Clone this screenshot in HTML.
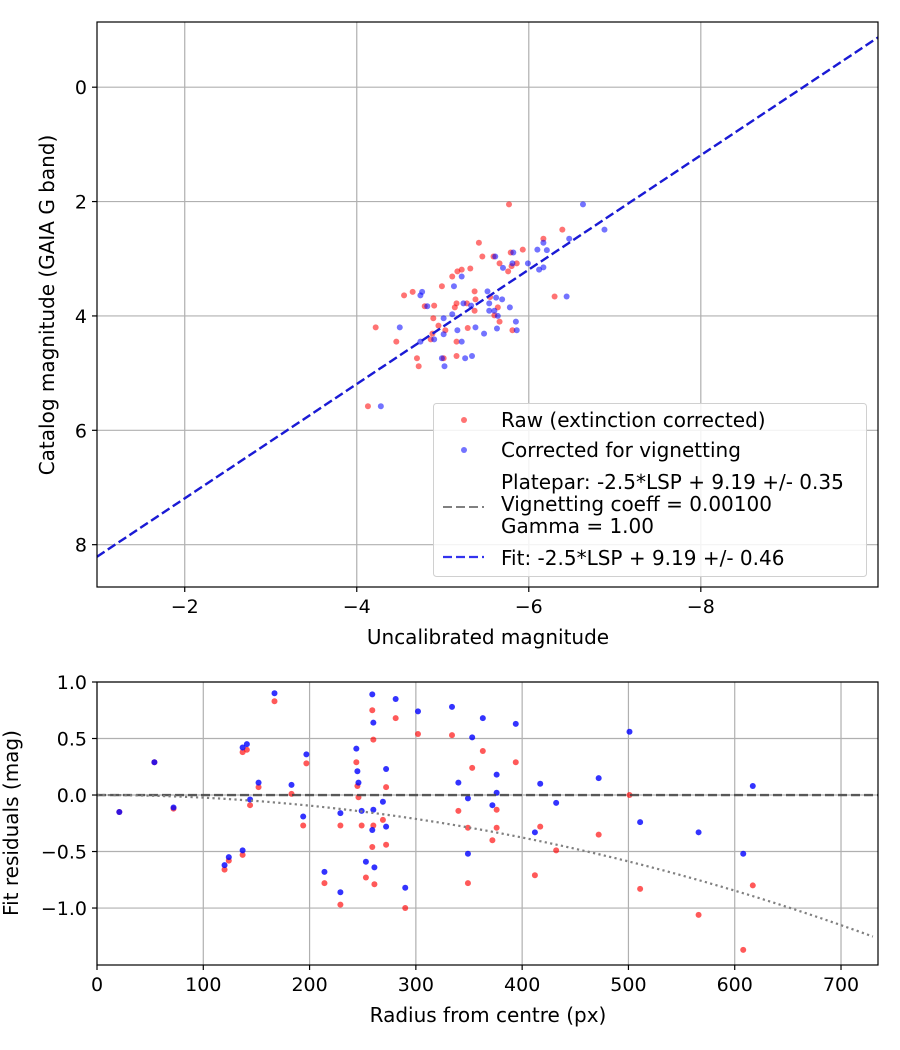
<!DOCTYPE html>
<html><head><meta charset="utf-8"><style>
html,body{margin:0;padding:0;background:#fff;}
svg{display:block;font-family:"DejaVu Sans","Liberation Sans",sans-serif;}
</style></head><body>
<svg id="fig" width="900" height="1050" viewBox="0 0 900 1050" xmlns="http://www.w3.org/2000/svg">
<rect width="900" height="1050" fill="#fff"/>
<g id="topPlot"></g>
<g id="botPlot"></g>
</svg>
<script>
// ---- Top chart data ----
const rawX = [-5.77,-5.42,-6.39,-6.17,-5.93,-5.79,-5.46,-5.59,-5.66,-5.86,-5.80,-5.76,-5.32,-5.22,-5.17,-5.11,-4.99,-4.65,-4.55,-5.37,-5.38,-5.16,-5.14,-4.90,-4.79,-5.28,-5.37,-5.55,-5.64,-5.60,-5.66,-6.30,-4.89,-4.95,-4.22,-5.29,-5.03,-5.81,-4.88,-4.86,-4.46,-5.16,-4.70,-4.72,-5.01,-5.16,-4.13];
const rawY = [2.05,2.72,2.49,2.65,2.84,2.89,2.96,2.96,3.08,3.08,3.13,3.22,3.17,3.19,3.22,3.31,3.48,3.58,3.64,3.57,3.71,3.78,3.85,3.82,3.83,3.78,3.91,3.67,3.85,3.99,4.10,3.66,4.04,4.17,4.20,4.21,4.25,4.25,4.31,4.41,4.45,4.45,4.74,4.88,4.74,4.70,5.58];
const corX = [-6.63,-6.88,-6.47,-6.17,-6.10,-6.21,-5.82,-5.61,-5.81,-5.99,-5.70,-6.12,-6.17,-5.22,-5.13,-4.76,-4.74,-4.82,-5.52,-5.62,-5.69,-5.24,-5.33,-5.54,-5.78,-5.54,-5.60,-5.64,-5.11,-6.44,-5.01,-5.85,-4.50,-5.38,-5.17,-5.63,-5.86,-5.01,-5.48,-4.90,-4.74,-5.22,-4.99,-5.26,-5.34,-5.02,-4.28];
const corY = [2.05,2.49,2.65,2.72,2.84,2.85,2.89,2.96,3.08,3.08,3.16,3.19,3.15,3.31,3.48,3.58,3.64,3.83,3.57,3.68,3.71,3.78,3.82,3.78,3.85,3.91,3.91,4.00,3.97,3.66,4.04,4.10,4.20,4.20,4.25,4.22,4.25,4.32,4.31,4.41,4.45,4.45,4.74,4.74,4.70,4.88,5.58];
const fitOffset = [9.19];
const topXTicks = [-2,-4,-6,-8];
const topYTicks = [0,2,4,6,8];
// ---- Bottom chart data ----
const resR = [54,21,72,167,137,141,152,144,183,197,194,120,124,137,214,229,229,244,245,246,249,259,260,260,259,253,261,269,272,272,281,302,334,353,363,394,340,349,376,376,372,349,417,432,412,472,501,511,566,608,617,290];
const resBlue = [0.29,-0.15,-0.11,0.90,0.42,0.45,0.11,-0.04,0.09,0.36,-0.19,-0.62,-0.55,-0.49,-0.68,-0.86,-0.16,0.41,0.21,0.11,-0.14,0.89,0.64,-0.13,-0.31,-0.59,-0.64,-0.06,0.23,-0.28,0.85,0.74,0.78,0.51,0.68,0.63,0.11,-0.03,0.18,0.02,-0.09,-0.52,0.10,-0.07,-0.33,0.15,0.56,-0.24,-0.33,-0.52,0.08,-0.82];
const resRed = [0.29,-0.15,-0.12,0.83,0.38,0.40,0.07,-0.09,0.01,0.28,-0.27,-0.66,-0.58,-0.53,-0.78,-0.97,-0.27,0.29,0.08,-0.02,-0.27,0.75,0.49,-0.27,-0.46,-0.73,-0.79,-0.22,0.07,-0.44,0.68,0.54,0.53,0.24,0.39,0.29,-0.14,-0.29,-0.13,-0.29,-0.40,-0.78,-0.28,-0.49,-0.71,-0.35,0.00,-0.83,-1.06,-1.37,-0.80,-1.00];
const vignK = [2.35e-6];
const botXTicks = [0,100,200,300,400,500,600,700];
const botYTicks = [1.0,0.5,0.0,-0.5,-1.0];

const NS="http://www.w3.org/2000/svg";
const TICK_FS=19, TITLE_FS=20, LEG_FS=20;
function mk(parent,tag,attrs){const e=document.createElementNS(NS,tag);for(const k in attrs)e.setAttribute(k,attrs[k]);parent.appendChild(e);return e;}
function fmtMinus(v,d){const s=Math.abs(v).toFixed(d);return (v<0?"\u2212":"")+s;}

// top axes
const T={x0:97,x1:878,y0:22,y1:587,xmin:-0.98,xmax:-10.06,ymin:-1.14,ymax:8.74};
const tx=v=>T.x0+(v-T.xmin)/(T.xmax-T.xmin)*(T.x1-T.x0);
const ty=v=>T.y0+(v-T.ymin)/(T.ymax-T.ymin)*(T.y1-T.y0);
const topG=document.getElementById('topPlot');
const tgrid=mk(topG,'g',{});


topXTicks.forEach(v=>{
  const x=tx(v);
  mk(tgrid,'line',{x1:x,x2:x,y1:T.y0,y2:T.y1,stroke:'#b0b0b0','stroke-width':1.2});
  mk(topG,'line',{x1:x,x2:x,y1:T.y1,y2:T.y1+5,stroke:'#000','stroke-width':1.2});
  const t=mk(topG,'text',{x:x,y:T.y1+26,'text-anchor':'middle','font-size':TICK_FS,fill:'#000'});
  
  
  t.textContent=fmtMinus(v,0);
});
topYTicks.forEach(v=>{
  const y=ty(v);
  mk(tgrid,'line',{x1:T.x0,x2:T.x1,y1:y,y2:y,stroke:'#b0b0b0','stroke-width':1.2});
  mk(topG,'line',{x1:T.x0-5,x2:T.x0,y1:y,y2:y,stroke:'#000','stroke-width':1.2});
  const t=mk(topG,'text',{x:T.x0-10,y:y+7,'text-anchor':'end','font-size':TICK_FS,fill:'#000'});
  
  
  t.textContent=fmtMinus(v,0);
});
rawX.forEach((v,i)=>{
  const c=mk(topG,'circle',{cx:tx(v),cy:ty(rawY[i]),r:3,fill:'#ff0000','fill-opacity':0.55});
  
  
});
corX.forEach((v,i)=>{
  const c=mk(topG,'circle',{cx:tx(v),cy:ty(corY[i]),r:3,fill:'#0000ff','fill-opacity':0.55});
  
  
});
const lx0=T.xmin,lx1=T.xmax;
const ppl=mk(topG,'line',{x1:tx(lx0),y1:ty(lx0+fitOffset[0]),x2:tx(lx1),y2:ty(lx1+fitOffset[0]),stroke:'#808080','stroke-width':2,'stroke-dasharray':'9,4'});


const fl=mk(topG,'line',{x1:tx(lx0),y1:ty(lx0+fitOffset[0]),x2:tx(lx1),y2:ty(lx1+fitOffset[0]),stroke:'#1a1ad6','stroke-width':2.4,'stroke-dasharray':'9,4'});


mk(topG,'rect',{x:T.x0,y:T.y0,width:T.x1-T.x0,height:T.y1-T.y0,fill:'none',stroke:'#000','stroke-width':1.2});
// legend
const lg=mk(topG,'g',{});


mk(lg,'rect',{x:433.5,y:403.5,width:433,height:173,rx:3,fill:'#fff','fill-opacity':0.85,stroke:'#d0d0d0','stroke-width':1});
mk(lg,'circle',{cx:464,cy:420,r:3,fill:'#ff0000','fill-opacity':0.55});
mk(lg,'circle',{cx:464,cy:450,r:3,fill:'#0000ff','fill-opacity':0.55});
mk(lg,'line',{x1:443,x2:484,y1:507,y2:507,stroke:'#808080','stroke-width':2,'stroke-dasharray':'9,4'});
mk(lg,'line',{x1:443,x2:484,y1:557,y2:557,stroke:'#3333ee','stroke-width':2.2,'stroke-dasharray':'9,4'});
[["Raw (extinction corrected)",427,'legend-raw'],["Corrected for vignetting",457,'legend-corrected'],["Platepar: -2.5*LSP + 9.19 +/- 0.35",489,'legend-platepar'],["Vignetting coeff = 0.00100",511,'legend-vignetting'],["Gamma = 1.00",533,'legend-gamma'],["Fit: -2.5*LSP + 9.19 +/- 0.46",565,'legend-fit']].forEach(a=>{
  const t=mk(lg,'text',{x:501,y:a[1],'font-size':LEG_FS,fill:'#000'});
  
  
  t.textContent=a[0];
});
const xl=mk(topG,'text',{x:488,y:644,'text-anchor':'middle','font-size':TITLE_FS,fill:'#000'});


xl.textContent='Uncalibrated magnitude';
const yl=mk(topG,'text',{x:0,y:0,'text-anchor':'middle','font-size':TITLE_FS,fill:'#000',transform:'translate(54,305) rotate(-90)'});


yl.textContent='Catalog magnitude (GAIA G band)';

// bottom axes
const B={x0:97,x1:878,y0:682,y1:965,xmin:0,xmax:734.8,ymin:-1.504,ymax:1.0};
const bx=v=>B.x0+(v-B.xmin)/(B.xmax-B.xmin)*(B.x1-B.x0);
const by=v=>B.y1-(v-B.ymin)/(B.ymax-B.ymin)*(B.y1-B.y0);
const botG=document.getElementById('botPlot');
const bgrid=mk(botG,'g',{});


botXTicks.forEach(v=>{
  const x=bx(v);
  mk(bgrid,'line',{x1:x,x2:x,y1:B.y0,y2:B.y1,stroke:'#b0b0b0','stroke-width':1.2});
  mk(botG,'line',{x1:x,x2:x,y1:B.y1,y2:B.y1+5,stroke:'#000','stroke-width':1.2});
  const t=mk(botG,'text',{x:x,y:B.y1+26,'text-anchor':'middle','font-size':TICK_FS,fill:'#000'});
  
  
  t.textContent=String(v);
});
botYTicks.forEach(v=>{
  const y=by(v);
  mk(bgrid,'line',{x1:B.x0,x2:B.x1,y1:y,y2:y,stroke:'#b0b0b0','stroke-width':1.2});
  mk(botG,'line',{x1:B.x0-5,x2:B.x0,y1:y,y2:y,stroke:'#000','stroke-width':1.2});
  const t=mk(botG,'text',{x:B.x0-10,y:y+7,'text-anchor':'end','font-size':TICK_FS,fill:'#000'});
  
  
  t.textContent=fmtMinus(v,1);
});
resR.forEach((r,i)=>{
  const c=mk(botG,'circle',{cx:bx(r),cy:by(resRed[i]),r:3,fill:'#ff0000','fill-opacity':0.65});
  
  
});
resR.forEach((r,i)=>{
  const c=mk(botG,'circle',{cx:bx(r),cy:by(resBlue[i]),r:3,fill:'#0000ff','fill-opacity':0.8});
  
  
});
const zl=mk(botG,'line',{x1:B.x0,x2:B.x1,y1:by(0),y2:by(0),stroke:'#444','stroke-opacity':0.85,'stroke-width':2.4,'stroke-dasharray':'9,4'});


let pts=[];
for(let r=0;r<=B.xmax;r+=5){pts.push(bx(r)+','+by(-vignK[0]*r*r));}
const vc=mk(botG,'polyline',{points:pts.join(' '),fill:'none',stroke:'#808080','stroke-width':2.2,'stroke-dasharray':'2.2,3.3'});


mk(botG,'rect',{x:B.x0,y:B.y0,width:B.x1-B.x0,height:B.y1-B.y0,fill:'none',stroke:'#000','stroke-width':1.2});
const bxl=mk(botG,'text',{x:488,y:1022,'text-anchor':'middle','font-size':TITLE_FS,fill:'#000'});


bxl.textContent='Radius from centre (px)';
const byl=mk(botG,'text',{x:0,y:0,'text-anchor':'middle','font-size':TITLE_FS,fill:'#000',transform:'translate(18,823) rotate(-90)'});


byl.textContent='Fit residuals (mag)';
</script>
</body></html>
